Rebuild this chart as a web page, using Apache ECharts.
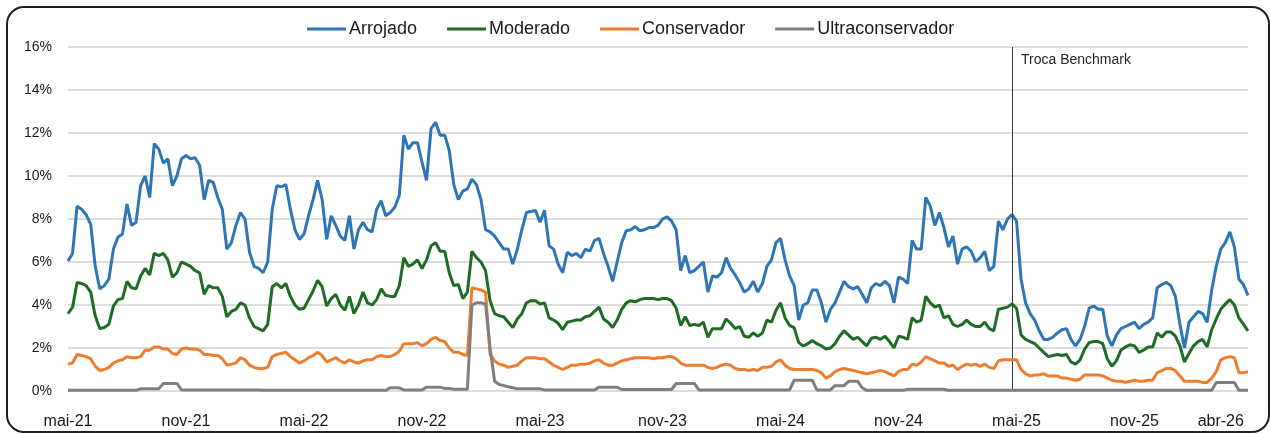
<!DOCTYPE html>
<html>
<head>
<meta charset="utf-8">
<script src="https://cdn.jsdelivr.net/npm/echarts@6/dist/echarts.min.js"></script>
<style>
html,body{margin:0;padding:0;background:#fff;}
#c{width:1270px;height:434px;}
</style>
</head>
<body>
<div id="c"></div>
<script>
// ---- tick labels (weekly index -> label) ----
const tickIndex = [0, 26, 52, 78, 104, 131, 157, 183, 209, 235, 254];
const tickText = ['mai-21','nov-21','mai-22','nov-22','mai-23','nov-23','mai-24','nov-24','mai-25','nov-25','abr-26'];
const benchmarkIndex = 208;
const benchmarkLabel = 'Troca Benchmark';
const seriesNames = ['Arrojado', 'Moderado', 'Conservador', 'Ultraconservador'];

// ---- weekly values (%) ----
const arrojado = [
6.05, 6.4, 8.6, 8.45, 8.2, 7.75, 5.8, 4.75, 4.9, 5.2,
6.6, 7.15, 7.3, 8.7, 7.7, 7.85, 9.55, 10.0, 9.0, 11.5,
11.25, 10.6, 10.8, 9.55, 10.0, 10.8, 10.95, 10.8, 10.85, 10.5,
8.9, 9.8, 9.7, 9.0, 8.45, 6.6, 6.9, 7.7, 8.3, 8.0,
6.45, 5.8, 5.7, 5.5, 6.0, 8.45, 9.55, 9.5, 9.6, 8.45,
7.5, 7.05, 7.3, 8.15, 8.9, 9.8, 8.9, 7.05, 8.15, 7.7,
7.2, 7.0, 8.15, 6.6, 7.5, 7.85, 7.5, 7.4, 8.45, 8.85,
8.15, 8.3, 8.55, 9.1, 11.9, 11.25, 11.55, 11.55, 10.65, 9.8,
12.2, 12.5, 11.9, 11.9, 11.2, 9.6, 8.9, 9.3, 9.4, 9.85,
9.6, 8.9, 7.5, 7.4, 7.2, 6.9, 6.6, 6.6, 5.9, 6.6,
7.5, 8.3, 8.35, 8.4, 7.85, 8.4, 6.75, 6.6, 5.9, 5.5,
6.45, 6.3, 6.4, 6.2, 6.6, 6.5, 7.0, 7.1, 6.4, 5.8,
5.1, 6.0, 6.9, 7.45, 7.5, 7.65, 7.45, 7.5, 7.6, 7.6,
7.7, 8.0, 8.1, 7.9, 7.5, 5.6, 6.3, 5.5, 5.6, 5.8,
6.0, 4.6, 5.35, 5.3, 5.5, 6.2, 5.7, 5.4, 5.05, 4.6,
4.75, 5.1, 4.6, 5.0, 5.8, 6.1, 6.9, 7.1, 6.1, 5.35,
4.9, 3.3, 4.0, 4.1, 4.7, 4.7, 4.1, 3.2, 3.8, 4.1,
4.6, 5.1, 4.85, 4.75, 4.85, 4.5, 4.1, 4.8, 5.0, 4.9,
5.1, 4.9, 4.1, 5.3, 5.2, 5.0, 7.0, 6.6, 6.6, 9.0,
8.6, 7.7, 8.3, 7.6, 6.7, 7.2, 5.9, 6.6, 6.7, 6.5,
6.0, 6.2, 6.5, 5.6, 5.8, 7.9, 7.5, 8.0, 8.2, 7.9,
5.2, 4.1, 3.6, 3.3, 2.8, 2.4, 2.4, 2.5, 2.7, 2.85,
2.9, 2.4, 2.1, 2.4, 3.0, 3.85, 3.95, 3.8, 3.8, 2.55,
2.1, 2.6, 2.9, 3.0, 3.1, 3.2, 2.9, 3.1, 3.2, 3.4,
4.8, 4.95, 5.05, 4.9, 4.4, 3.1, 2.0, 3.2, 3.45, 3.7,
3.6, 3.2, 4.7, 5.8, 6.6, 6.9, 7.4, 6.7, 5.2, 4.95,
4.45
];
const moderado = [
3.6, 3.9, 5.05, 5.0, 4.9, 4.6, 3.5, 2.9, 2.95, 3.1,
3.95, 4.25, 4.3, 5.1, 4.8, 4.75, 5.35, 5.7, 5.4, 6.4,
6.3, 6.4, 6.1, 5.3, 5.5, 6.0, 5.9, 5.8, 5.6, 5.5,
4.5, 4.9, 4.8, 4.8, 4.4, 3.45, 3.7, 3.8, 4.1, 4.0,
3.4, 3.0, 2.9, 2.8, 3.1, 4.85, 5.0, 4.8, 5.0, 4.4,
4.0, 3.8, 3.85, 4.25, 4.65, 5.15, 4.85, 3.95, 4.3, 4.5,
4.0, 3.75, 4.4, 3.6, 4.0, 4.6, 4.1, 4.0, 4.25, 4.75,
4.45, 4.4, 4.4, 4.9, 6.2, 5.8, 5.9, 6.1, 5.7, 6.1,
6.75, 6.9, 6.5, 6.5, 5.5, 4.9, 4.95, 4.3, 4.6, 6.5,
6.2, 6.0, 5.6, 4.2, 3.6, 3.5, 3.45, 3.2, 2.95, 3.35,
3.6, 4.1, 4.2, 4.2, 4.05, 4.1, 3.4, 3.3, 3.15, 2.85,
3.2, 3.25, 3.3, 3.3, 3.45, 3.5, 3.7, 3.9, 3.35, 3.2,
2.95, 3.3, 3.8, 4.1, 4.2, 4.15, 4.25, 4.3, 4.3, 4.3,
4.25, 4.3, 4.3, 4.2, 3.85, 3.05, 3.45, 3.05, 3.1, 3.05,
3.2, 2.5, 2.9, 2.9, 2.9, 3.35, 3.15, 2.9, 3.0, 2.55,
2.5, 2.7, 2.55, 2.7, 3.3, 3.2, 3.75, 4.1, 3.4, 3.05,
2.95, 2.25, 2.1, 2.2, 2.35, 2.2, 2.1, 1.95, 2.0, 2.2,
2.55, 2.8, 2.6, 2.4, 2.5, 2.3, 2.1, 2.45, 2.5, 2.4,
2.55, 2.3, 2.0, 2.55, 2.5, 2.4, 3.4, 3.2, 3.3, 4.4,
4.1, 3.9, 4.0, 3.4, 3.5, 3.1, 3.0, 3.1, 3.3, 3.1,
3.0, 3.0, 3.2, 2.9, 2.8, 3.8, 3.85, 3.9, 4.05, 3.85,
2.6, 2.4, 2.3, 2.2, 2.0, 1.8, 1.6, 1.65, 1.7, 1.65,
1.7, 1.35, 1.25, 1.45, 1.95, 2.25, 2.3, 2.3, 2.2, 1.5,
1.15, 1.4, 1.9, 2.05, 2.15, 2.1, 1.8, 1.9, 2.05, 2.05,
2.7, 2.5, 2.75, 2.75, 2.55, 2.1, 1.35, 1.75, 2.1, 2.3,
2.4, 2.05, 2.85, 3.35, 3.8, 4.05, 4.25, 4.0, 3.4, 3.1,
2.8
];
const conservador = [
1.25, 1.3, 1.7, 1.65, 1.6, 1.5, 1.15, 0.95, 1.0, 1.1,
1.3, 1.4, 1.45, 1.6, 1.55, 1.55, 1.6, 1.9, 1.9, 2.05,
2.05, 1.95, 1.95, 1.75, 1.7, 1.95, 2.0, 1.95, 1.95, 1.9,
1.7, 1.7, 1.65, 1.65, 1.5, 1.2, 1.25, 1.3, 1.55, 1.45,
1.2, 1.1, 1.05, 1.05, 1.1, 1.6, 1.7, 1.75, 1.8, 1.6,
1.45, 1.3, 1.4, 1.55, 1.65, 1.8, 1.65, 1.35, 1.45, 1.55,
1.4, 1.3, 1.45, 1.35, 1.3, 1.4, 1.45, 1.45, 1.6, 1.65,
1.6, 1.6, 1.7, 1.85, 2.2, 2.2, 2.2, 2.25, 2.1, 2.2,
2.4, 2.5, 2.35, 2.3, 2.0, 1.8, 1.8, 1.7, 1.65, 4.8,
4.75, 4.7, 4.6, 1.7, 1.4, 1.25, 1.2, 1.1, 1.15, 1.2,
1.4, 1.55, 1.55, 1.55, 1.5, 1.5, 1.35, 1.2, 1.1, 1.0,
1.1, 1.2, 1.2, 1.25, 1.25, 1.3, 1.4, 1.45, 1.3, 1.2,
1.2, 1.3, 1.4, 1.45, 1.5, 1.55, 1.55, 1.55, 1.55, 1.5,
1.55, 1.55, 1.6, 1.6, 1.5, 1.3, 1.2, 1.2, 1.2, 1.2,
1.2, 1.1, 1.05, 1.1, 1.2, 1.25, 1.2, 1.05, 1.0, 1.0,
0.95, 1.0, 0.95, 1.1, 1.1, 1.15, 1.35, 1.45, 1.2, 1.05,
1.0, 1.0, 1.0, 1.0, 1.0, 0.95, 0.85, 0.6, 0.7, 0.9,
1.0, 1.05, 1.0, 0.95, 0.9, 0.85, 0.8, 0.85, 0.9, 0.95,
0.9, 0.8, 0.7, 0.9, 1.0, 1.0, 1.25, 1.2, 1.35, 1.6,
1.5, 1.4, 1.3, 1.3, 1.15, 1.2, 1.0, 1.15, 1.25, 1.2,
1.25, 1.15, 1.25, 1.1, 1.05, 1.4, 1.45, 1.45, 1.45, 1.45,
1.0, 0.8, 0.7, 0.75, 0.75, 0.8, 0.7, 0.7, 0.7, 0.6,
0.6, 0.55, 0.5, 0.55, 0.75, 0.75, 0.75, 0.75, 0.7, 0.6,
0.5, 0.45, 0.45, 0.4, 0.45, 0.5, 0.45, 0.45, 0.5, 0.5,
0.85, 0.95, 1.05, 1.05, 0.95, 0.7, 0.45, 0.45, 0.45, 0.45,
0.4, 0.4, 0.6, 0.9, 1.45, 1.55, 1.6, 1.55, 0.85, 0.85,
0.9
];
const ultraconservador = [
0.03, 0.03, 0.03, 0.03, 0.03, 0.03, 0.03, 0.03, 0.03, 0.03,
0.03, 0.03, 0.03, 0.03, 0.03, 0.03, 0.1, 0.1, 0.1, 0.1,
0.1, 0.35, 0.35, 0.35, 0.35, 0.05, 0.05, 0.05, 0.05, 0.05,
0.05, 0.05, 0.05, 0.05, 0.05, 0.05, 0.05, 0.05, 0.05, 0.05,
0.05, 0.05, 0.05, 0.03, 0.03, 0.03, 0.03, 0.03, 0.03, 0.03,
0.03, 0.03, 0.03, 0.03, 0.03, 0.03, 0.03, 0.03, 0.03, 0.03,
0.03, 0.03, 0.03, 0.03, 0.03, 0.03, 0.03, 0.03, 0.03, 0.03,
0.03, 0.15, 0.15, 0.15, 0.05, 0.05, 0.05, 0.05, 0.05, 0.18,
0.18, 0.18, 0.18, 0.12, 0.12, 0.08, 0.08, 0.08, 0.08, 4.0,
4.1, 4.1, 4.05, 2.0, 0.45, 0.3, 0.25, 0.2, 0.15, 0.1,
0.1, 0.1, 0.1, 0.1, 0.1, 0.05, 0.05, 0.05, 0.05, 0.05,
0.05, 0.05, 0.05, 0.05, 0.05, 0.05, 0.05, 0.18, 0.18, 0.18,
0.18, 0.18, 0.07, 0.07, 0.07, 0.07, 0.07, 0.07, 0.07, 0.07,
0.07, 0.07, 0.07, 0.07, 0.35, 0.35, 0.35, 0.35, 0.35, 0.05,
0.05, 0.05, 0.05, 0.05, 0.05, 0.05, 0.05, 0.05, 0.05, 0.05,
0.05, 0.05, 0.05, 0.05, 0.05, 0.05, 0.05, 0.05, 0.05, 0.05,
0.5, 0.5, 0.5, 0.5, 0.5, 0.05, 0.05, 0.05, 0.05, 0.25,
0.25, 0.25, 0.45, 0.45, 0.45, 0.15, 0.03, 0.03, 0.03, 0.03,
0.03, 0.03, 0.03, 0.03, 0.03, 0.08, 0.08, 0.08, 0.08, 0.08,
0.08, 0.08, 0.08, 0.08, 0.03, 0.03, 0.03, 0.03, 0.03, 0.03,
0.03, 0.03, 0.03, 0.03, 0.03, 0.03, 0.03, 0.03, 0.03, 0.03,
0.03, 0.03, 0.03, 0.03, 0.03, 0.03, 0.03, 0.03, 0.03, 0.03,
0.03, 0.03, 0.03, 0.03, 0.03, 0.03, 0.03, 0.03, 0.03, 0.03,
0.03, 0.03, 0.03, 0.03, 0.03, 0.03, 0.03, 0.03, 0.03, 0.03,
0.03, 0.03, 0.03, 0.03, 0.03, 0.03, 0.03, 0.03, 0.03, 0.03,
0.03, 0.03, 0.03, 0.4, 0.4, 0.4, 0.4, 0.4, 0.03, 0.03,
0.03
];

// weekly category dates (x domain)
const categories = arrojado.map((_, i) => new Date(Date.UTC(2021, 4, 3) + i * 7 * 86400000).toISOString().slice(0, 10));

const FONT = '"Liberation Sans", Arial, sans-serif';
const colors = ['#2e75b6', '#1e6b25', '#ed7d31', '#7f7f7f'];
const values = [arrojado, moderado, conservador, ultraconservador];

const chart = echarts.init(document.getElementById('c'), null, {renderer: 'canvas'});
const series = seriesNames.map((name, k) => ({
  name: name,
  type: 'line',
  data: values[k],
  symbol: 'none',
  showSymbol: false,
  lineStyle: {width: 3, color: colors[k]},
  itemStyle: {color: colors[k]},
  z: 3 + k
}));
series[0].markLine = {
  silent: true,
  symbol: 'none',
  label: {show: false},
  lineStyle: {color: '#3a3a3a', width: 1, type: 'solid'},
  data: [{xAxis: categories[benchmarkIndex]}]
};

chart.setOption({
  animation: false,
  backgroundColor: '#ffffff',
  textStyle: {fontFamily: FONT},
  color: colors,
  legend: {
    data: seriesNames,
    left: 302,
    top: 15,
    icon: 'rect',
    itemWidth: 39,
    itemHeight: 3,
    itemGap: 30,
    textStyle: {fontFamily: FONT, fontSize: 18, color: '#1a1a1a', padding: [0, 0, 0, -2]}
  },
  grid: {left: 68, right: 22, top: 47, bottom: 43, containLabel: false},
  xAxis: {
    type: 'category',
    data: categories,
    boundaryGap: false,
    axisLine: {show: false},
    axisTick: {show: false},
    splitLine: {show: false},
    axisLabel: {
      interval: (idx) => tickIndex.indexOf(idx) >= 0,
      formatter: (val, idx) => { const p = tickIndex.indexOf(idx); return p >= 0 ? tickText[p] : ''; },
      fontFamily: FONT,
      fontSize: 16,
      color: '#1a1a1a',
      margin: 23
    }
  },
  yAxis: {
    type: 'value',
    min: 0,
    max: 16,
    interval: 2,
    axisLine: {show: false},
    axisTick: {show: false},
    axisLabel: {formatter: '{value}%', fontFamily: FONT, fontSize: 14, color: '#1a1a1a', margin: 16},
    splitLine: {lineStyle: {color: '#dcdcdc', width: 2}}
  },
  series: series
});

const bx = chart.convertToPixel({xAxisIndex: 0}, categories[benchmarkIndex]);
chart.setOption({
  graphic: [
    {
      type: 'rect',
      silent: true,
      z: 100,
      shape: {x: 7, y: 7, width: 1262, height: 425, r: 17},
      style: {fill: 'none', stroke: '#1f1f1f', lineWidth: 2}
    },
    {
      type: 'text',
      silent: true,
      z: 100,
      x: bx + 9,
      y: 60,
      style: {text: benchmarkLabel, fontFamily: FONT, fontSize: 14, fill: '#262626', verticalAlign: 'middle', align: 'left'}
    }
  ]
});
</script>
</body>
</html>
